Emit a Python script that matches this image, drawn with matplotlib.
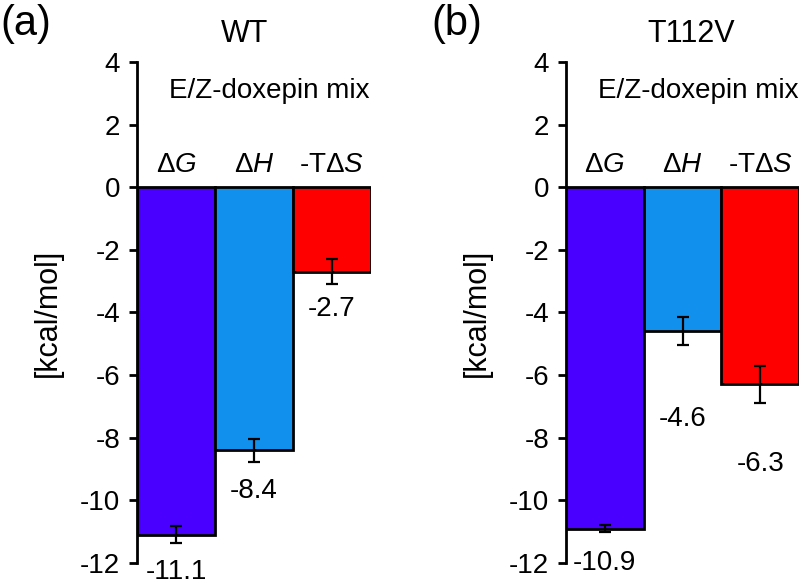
import matplotlib.pyplot as plt

plt.rcParams['font.family'] = ['Liberation Sans', 'DejaVu Sans']
plt.rcParams['mathtext.fontset'] = 'custom'
plt.rcParams['mathtext.rm'] = 'Liberation Sans'
plt.rcParams['mathtext.it'] = 'Liberation Sans:italic'
plt.rcParams['axes.unicode_minus'] = False

# Data
terms = [r'$\Delta\mathit{G}$', r'$\Delta\mathit{H}$', r'-T$\Delta\mathit{S}$']
colors = ['#4A00FF', '#1190EE', '#FF0000']

wt_values = [-11.1, -8.4, -2.7]
wt_errors = [0.27, 0.37, 0.40]
t112v_values = [-10.9, -4.6, -6.3]
t112v_errors = [0.12, 0.45, 0.58]

# where the value labels sit (data y)
wt_label_y = [-12.3, -9.7, -3.9]
t112v_label_y = [-12.0, -7.4, -8.85]

fig = plt.figure(figsize=(8.04, 5.84), dpi=100)
ax_a = fig.add_axes([0.1704, 0.036, 0.291, 0.858])
ax_b = fig.add_axes([0.704, 0.036, 0.290, 0.858])


def draw_panel(ax, values, errors, label_y):
    x = range(len(values))
    ax.bar(x, values, width=1.0, color=colors, edgecolor='black', linewidth=2.0)
    ax.errorbar(x, values, yerr=errors, fmt='none', ecolor='black',
                elinewidth=1.6, capsize=4.5, capthick=1.6)
    for i, v in enumerate(values):
        ax.text(i, label_y[i], f'{v:.1f}', ha='center', va='center', fontsize=20)
        ax.text(i, 0.48, terms[i], ha='center', va='baseline', fontsize=20)
    ax.text(1.2, 2.84, 'E/Z-doxepin mix', ha='center', va='baseline', fontsize=20)
    ax.set_xlim(-0.5, 2.5)
    ax.set_ylim(-12, 4)
    ax.set_yticks(range(-12, 5, 2))
    ax.set_xticks([])
    for s in ['top', 'right', 'bottom']:
        ax.spines[s].set_visible(False)
    ax.spines['left'].set_linewidth(2.0)
    ax.tick_params(axis='y', labelsize=20, width=2.0, length=6, pad=6)
    ax.set_ylabel('[kcal/mol]', fontsize=22)
    ax.yaxis.set_label_coords(-0.317, 0.5)


draw_panel(ax_a, wt_values, wt_errors, wt_label_y)
draw_panel(ax_b, t112v_values, t112v_errors, t112v_label_y)

fig.text(245 / 804, 0.928, 'WT', ha='center', va='baseline', fontsize=22)
fig.text(691 / 804, 0.928, 'T112V', ha='center', va='baseline', fontsize=22)
fig.text(0.0, 0.940, '(a)', ha='left', va='baseline', fontsize=30)
fig.text(431 / 804, 0.940, '(b)', ha='left', va='baseline', fontsize=30)

fig.savefig('out.png', dpi=100)
